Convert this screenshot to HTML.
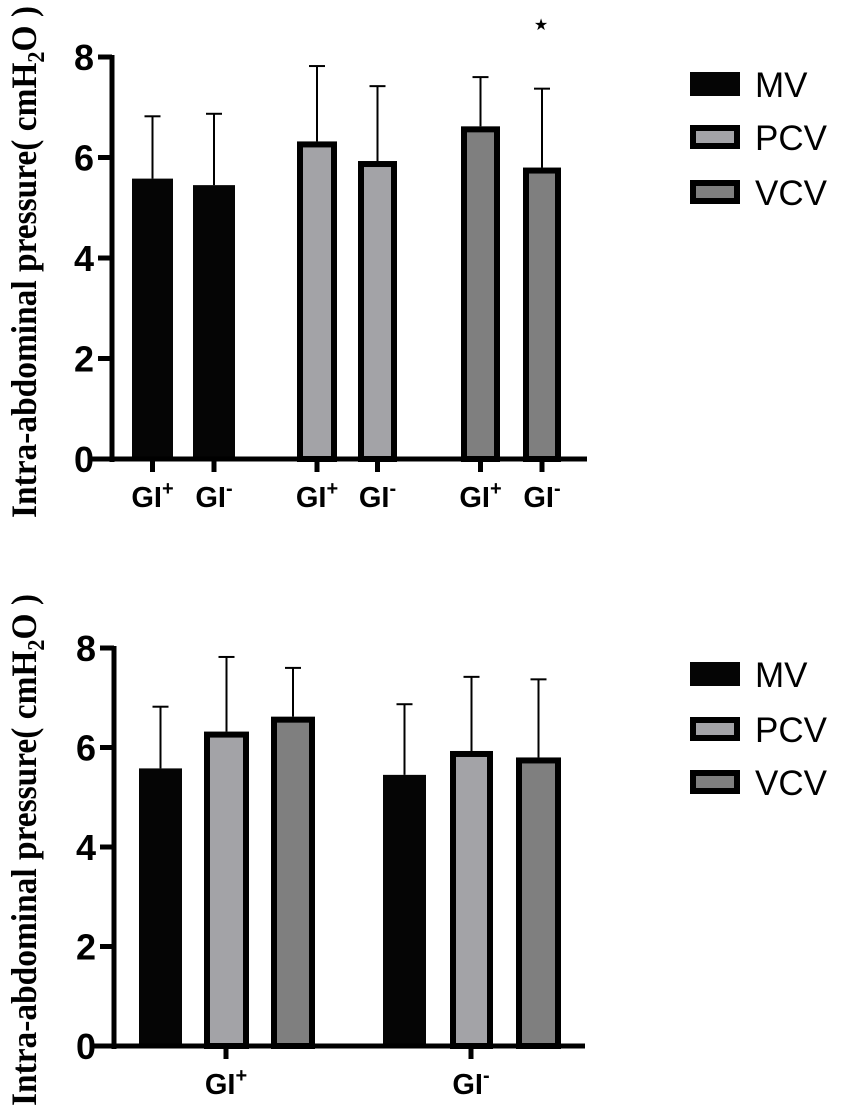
<!DOCTYPE html>
<html><head><meta charset="utf-8">
<style>
html,body{margin:0;padding:0;background:#fff;}
svg{display:block;}
</style></head>
<body>
<svg id="chart" width="851" height="1115" viewBox="0 0 851 1115" xmlns="http://www.w3.org/2000/svg"></svg>
<script>
// Data
const seriesNames = ["MV","PCV","VCV"];
const groupNames = ["GI+","GI-"];
const meanGIplus = [5.58, 6.32, 6.62];   // MV, PCV, VCV
const sdGIplus   = [1.24, 1.50, 0.98];
const meanGIminus = [5.45, 5.93, 5.80];
const sdGIminus   = [1.42, 1.49, 1.57];
const yTicks = [0, 2, 4, 6, 8];

const NS = "http://www.w3.org/2000/svg";
const svg = document.getElementById('chart');
const fills = ["#050505", "#a3a3a7", "#7f7f7f"];

function el(tag, attrs, parent, text) {
  const e = document.createElementNS(NS, tag);
  for (const k in attrs) e.setAttribute(k, attrs[k]);
  if (text !== undefined) e.textContent = text;
  (parent || svg).appendChild(e);
  return e;
}

function drawChart(cfg) {
  const g = el('g', {});
  
  
  const y = v => cfg.y0 - (v / 8) * (cfg.y0 - cfg.y8);
  // axis title
  const tt = el('text', {x: 0, y: 0, transform: `translate(${cfg.titleX},${cfg.titleY}) rotate(-90)`, 'text-anchor': 'middle',
    'font-family': '"Liberation Serif", serif', 'font-weight': 'bold', 'font-size': 36, fill: '#000',
    textLength: 512, lengthAdjust: 'spacingAndGlyphs'}, g);
  
  
  tt.appendChild(document.createTextNode('Intra-abdominal pressure( cmH'));
  el('tspan', {'font-size': 24, dy: 8}, tt, '2');
  el('tspan', {dy: -8}, tt, 'O )');
  // bars
  cfg.bars.forEach(b => {
    const top = y(b.mean), bot = y(0);
    const et = y(b.mean + b.sd);
    const cx = (b.x0 + b.x1) / 2;
    const eb = el('line', {x1: cx, x2: cx, y1: top, y2: et, stroke: '#000', 'stroke-width': 2}, g);
    
    
    el('line', {x1: cx - 8, x2: cx + 8, y1: et, y2: et, stroke: '#000', 'stroke-width': 2}, g);
    const r = el('rect', b.s === 0 ? {x: b.x0, y: top, width: b.x1 - b.x0, height: bot - top, fill: fills[0]}
      : {x: b.x0 + 3, y: top + 3, width: b.x1 - b.x0 - 6, height: bot - top - 3, fill: fills[b.s], stroke: '#000', 'stroke-width': 6}, g);
    
    
  });
  // axes
  const ya = el('line', {x1: cfg.ax, x2: cfg.ax, y1: cfg.y8 - 2, y2: cfg.y0 + 3, stroke: '#000', 'stroke-width': 5}, g);
  
  
  const xa = el('line', {x1: cfg.xaStart, x2: cfg.xaEnd, y1: cfg.y0, y2: cfg.y0, stroke: '#000', 'stroke-width': 5}, g);
  
  
  yTicks.forEach(t => {
    el('line', {x1: cfg.ax - 14, x2: cfg.ax, y1: y(t), y2: y(t), stroke: '#000', 'stroke-width': 5}, g);
    const tl = el('text', {x: cfg.ax - 18, y: y(t) + 13, 'text-anchor': 'end', 'font-family': '"Liberation Sans", sans-serif',
      'font-weight': 'bold', 'font-size': 36}, g, String(t));
    
    
  });
  cfg.xticks.forEach(t => {
    el('line', {x1: t.x, x2: t.x, y1: cfg.y0, y2: cfg.y0 + 13, stroke: '#000', 'stroke-width': 5}, g);
    const lt = el('text', {x: t.x, y: cfg.labelY, 'text-anchor': 'middle', 'font-family': '"Liberation Sans", sans-serif',
      'font-weight': 'bold', 'font-size': 29}, g);
    
    
    lt.appendChild(document.createTextNode('GI'));
    el('tspan', {dy: -12, 'font-size': 20}, lt, t.sign);
  });
  // legend
  cfg.legend.forEach((ly, i) => {
    const lg = el('g', {}, g);
    
    
    if (i === 0) el('rect', {x: 690, y: ly, width: 50, height: 24, fill: fills[0]}, lg);
    else el('rect', {x: 693, y: ly + 3, width: 44, height: 18, fill: fills[i], stroke: '#000', 'stroke-width': 6}, lg);
    el('text', {x: 755, y: ly + 25, 'font-family': '"Liberation Sans", sans-serif', 'font-size': 35}, lg, seriesNames[i]);
  });
  return g;
}

// Top chart: grouped by ventilation mode
const topBars = [];
const topPos = [[132,173],[193,235],[297,337],[358,397],[461,500],[523,561]];
seriesNames.forEach((s, si) => {
  topBars.push({s: si, g: 0, mean: meanGIplus[si], sd: sdGIplus[si], x0: topPos[si*2][0], x1: topPos[si*2][1]});
  topBars.push({s: si, g: 1, mean: meanGIminus[si], sd: sdGIminus[si], x0: topPos[si*2+1][0], x1: topPos[si*2+1][1]});
});
const topG = drawChart({name: 'top-chart', y0: 459, y8: 57, ax: 112, xaStart: 90, xaEnd: 587, titleX: 36, titleY: 262,
  labelY: 507, bars: topBars,
  xticks: topBars.map(b => ({x: (b.x0 + b.x1) / 2, sign: b.g === 0 ? '+' : '-'})),
  legend: [72, 125, 180]});
const star = el('text', {x: 541, y: 30, 'text-anchor': 'middle', 'font-family': '"DejaVu Sans", sans-serif', 'font-size': 16}, topG, '★');



// Bottom chart: grouped by GI status
const botPos = [[139,182],[204,249],[271,315],[383,426],[450,493],[516,561]];
const botBars = [];
seriesNames.forEach((s, si) => {
  botBars.push({s: si, g: 0, mean: meanGIplus[si], sd: sdGIplus[si], x0: botPos[si][0], x1: botPos[si][1]});
  botBars.push({s: si, g: 1, mean: meanGIminus[si], sd: sdGIminus[si], x0: botPos[3+si][0], x1: botPos[3+si][1]});
});
drawChart({name: 'bottom-chart', y0: 1046, y8: 648, ax: 114, xaStart: 93, xaEnd: 585, titleX: 36, titleY: 850,
  labelY: 1094, bars: botBars,
  xticks: [{x: 226, sign: '+'}, {x: 471, sign: '-'}],
  legend: [662, 717, 770]});
</script>
</body></html>
